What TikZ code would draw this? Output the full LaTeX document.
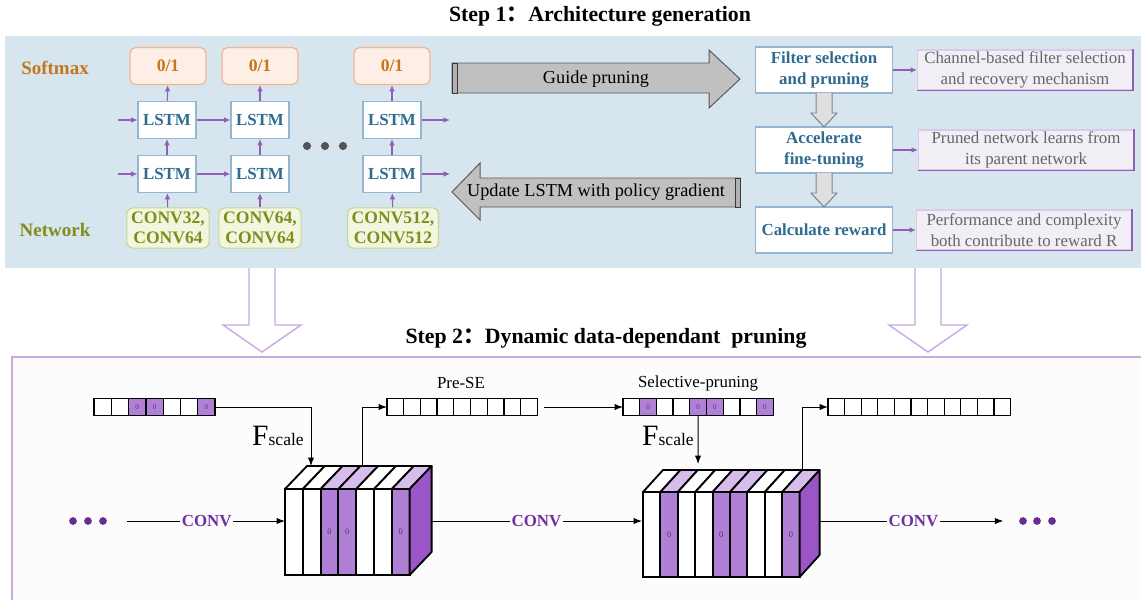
\documentclass[tikz,border=0pt]{standalone}
\usepackage{fontspec}
\setmainfont{Liberation Serif}
\newfontfamily\cjk{Noto Sans CJK SC}
\usetikzlibrary{arrows.meta,positioning}

\definecolor{panelblue}{HTML}{D7E6EE}
\definecolor{softfill}{HTML}{FDEEE6}
\definecolor{softedge}{HTML}{F3B58C}
\definecolor{softtext}{HTML}{C4761C}
\definecolor{lstmedge}{HTML}{94B6D2}
\definecolor{lstmtext}{HTML}{2F6C8E}
\definecolor{convfill}{HTML}{F3F6DF}
\definecolor{convedge}{HTML}{C5D78F}
\definecolor{convtext}{HTML}{7F8E1A}
\definecolor{arrowpurple}{HTML}{8E5FB8}
\definecolor{arrowgray}{HTML}{C0C0C0}
\definecolor{descfill}{HTML}{F1EEF6}
\definecolor{descedge}{HTML}{D9CBE8}
\definecolor{desctext}{HTML}{666666}
\definecolor{panellav}{HTML}{C9A9E2}
\definecolor{bottomfill}{HTML}{FCFCFC}
\definecolor{slicepurple}{HTML}{B07FD6}
\definecolor{toppurple}{HTML}{D6BDEB}
\definecolor{sidepurple}{HTML}{9A55C6}
\definecolor{convpurple}{HTML}{7030A0}
\definecolor{dotpurple}{HTML}{6A2C91}
\definecolor{dotgray}{HTML}{555555}
\definecolor{zerotext}{HTML}{4A3A5A}

\begin{document}
\begin{tikzpicture}[x=0.025cm,y=-0.025cm,
  parrow/.style={draw=arrowpurple,line width=.8pt,-{Latex[length=4.5pt,width=4pt]}},
  barrow/.style={draw=black,line width=.7pt,-{Latex[length=6pt,width=4.5pt]}},
  softbox/.style={draw=softedge,fill=softfill,rounded corners=4pt,text=softtext,font=\fontsize{12.5}{14}\selectfont\bfseries,minimum width=54pt,minimum height=26.3pt,line width=.8pt},
  lstmbox/.style={draw=lstmedge,fill=white,text=lstmtext,font=\fontsize{12}{14}\selectfont\bfseries,minimum width=41.3pt,minimum height=26.3pt,line width=.8pt},
  convbox/.style={draw=convedge,fill=convfill,rounded corners=4pt,text=convtext,font=\fontsize{12.5}{14.2}\selectfont\bfseries,align=center,minimum width=57pt,minimum height=27pt,inner sep=3pt,line width=.8pt},
  flowbox/.style={draw=lstmedge,fill=white,text=lstmtext,font=\fontsize{12}{14.5}\selectfont\bfseries,align=center,minimum width=97.5pt,minimum height=32.7pt,line width=.8pt},
  descbox/.style={draw=descedge,fill=descfill,text=desctext,font=\fontsize{12}{15}\selectfont,align=center,minimum width=153pt,minimum height=28.5pt,inner sep=1pt,line width=.8pt},
  darkedge/.style={draw=arrowpurple,line width=1pt},
  graybig/.style={draw=gray!70!black,fill=arrowgray,line width=.7pt},
  tailband/.style={fill=gray!60,draw=gray!45!black,line width=.7pt},
  graysmall/.style={draw=gray,fill=gray!25,line width=.7pt},
  hollow/.style={draw=panellav,fill=white,line width=1pt},
  dot/.style={circle,fill=#1,inner sep=0pt,minimum size=5.5pt},
  title/.style={font=\fontsize{15.5}{18}\selectfont\bfseries},
  side/.style={font=\fontsize{13.5}{16}\selectfont\bfseries},
  big/.style={font=\fontsize{13}{15}\selectfont},
  small/.style={font=\fontsize{12}{14}\selectfont},
  cell/.style={draw,line width=.9pt,inner sep=0pt,outer sep=0pt,minimum width=#1,minimum height=12.45pt,font=\fontsize{5}{6}\selectfont,text=zerotext},
  cell0/.style={fill=white},
  cell1/.style={fill=slicepurple},
  slice/.style={draw,line width=1.3pt,inner sep=0pt,outer sep=0pt,minimum width=#1,font=\fontsize{6}{7}\selectfont,text=zerotext},
  slice0/.style={fill=white},
  slice1/.style={fill=slicepurple},
  slice2/.style={fill=slicepurple},
  topf0/.style={fill=white},
  topf1/.style={fill=toppurple},
  topf2/.style={fill=toppurple},
  cubeedge/.style={draw,line width=1.3pt,line join=round},
  convlabel/.style={fill=bottomfill,text=convpurple,font=\fontsize{12}{14}\selectfont\bfseries,inner sep=1pt},
  fscale/.style={font=\fontsize{21}{24}\selectfont,inner sep=0pt}]

\useasboundingbox (0,0) rectangle (1141,599);

\node[title] (step1) at (600,16) {Step 1{\cjk ：}Architecture generation};
\fill[panelblue] (5,36) rectangle (1160,268);

\node[side,text=softtext] (softmax) at (55,68) {Softmax};
\node[side,text=convtext] (network) at (55,230) {Network};

\node[softbox] (s1) at (168,66) {0/1};
\node[softbox] (s2) at (260,66) {0/1};
\node[softbox] (s3) at (392,66) {0/1};
\node[lstmbox] (h1) at (167,120) {LSTM};
\node[lstmbox] (h2) at (260,120) {LSTM};
\node[lstmbox] (h3) at (392,120) {LSTM};
\node[lstmbox] (g1) at (167,174) {LSTM};
\node[lstmbox] (g2) at (260,174) {LSTM};
\node[lstmbox] (g3) at (392,174) {LSTM};
\node[convbox] (c1) at (168,228) {CONV32,\\CONV64};
\node[convbox] (c2) at (260,228) {CONV64,\\CONV64};
\node[convbox] (c3) at (393,228) {CONV512,\\CONV512};

\foreach \k in {1,2,3} {
  \draw[parrow] (c\k) -- (g\k);
  \draw[parrow] (g\k) -- (h\k);
  \draw[parrow] (h\k) -- (s\k);
}
\coordinate (hin) at (118,120);
\coordinate (gin) at (118,174);
\coordinate (hout) at (450,120);
\coordinate (gout) at (450,174);
\draw[parrow] (hin) -- (h1);
\draw[parrow] (gin) -- (g1);
\draw[parrow] (h1) -- (h2);
\draw[parrow] (g1) -- (g2);
\draw[parrow] (h3) -- (hout);
\draw[parrow] (g3) -- (gout);

\node[dot=dotgray,minimum size=5.8pt] (m1) at (307,146) {};
\node[dot=dotgray,minimum size=5.8pt] (m2) at (325,146) {};
\node[dot=dotgray,minimum size=5.8pt] (m3) at (343,146) {};

\draw[graybig] (452,63) -- (709,63) -- (709,50) -- (740,79) -- (709,108) -- (709,93) -- (452,93) -- cycle;
\draw[tailband] (452,63) rectangle (457,93);
\node[big] (guide) at (596,79) {Guide pruning};
\draw[graybig] (740,178) -- (480,178) -- (480,163) -- (452,192) -- (480,220) -- (480,207) -- (740,207) -- cycle;
\draw[tailband] (735,178) rectangle (740,207);
\node[big] (update) at (596,192) {Update LSTM with policy gradient};

\node[flowbox] (f1) at (824,70) {Filter selection\\and pruning};
\node[flowbox] (f2) at (824,150) {Accelerate\\fine-tuning};
\node[flowbox] (f3) at (824,230) {Calculate reward};
\node[descbox] (e1) at (1025,70) {Channel-based filter selection\\and recovery mechanism};
\node[descbox] (e2) at (1026,150) {Pruned network learns from\\its parent network};
\node[descbox] (e3) at (1024,230) {Performance and complexity\\both contribute to reward R};
\foreach \k in {1,2,3} {
  \draw[darkedge] (e\k.north east) -- (e\k.south east) -- (e\k.south west);
  \draw[parrow] (f\k) -- (e\k);
}
\draw[graysmall] (816,93) -- (816,113) -- (811,113) -- (824,127) -- (837,113) -- (832,113) -- (832,93);
\draw[graysmall] (816,173) -- (816,193) -- (811,193) -- (824,207) -- (837,193) -- (832,193) -- (832,173);

\draw[hollow] (249,268) -- (249,325) -- (223,325) -- (262,352) -- (301,325) -- (275,325) -- (275,268);
\draw[hollow] (915,268) -- (915,325) -- (889,325) -- (928,352) -- (967,325) -- (941,325) -- (941,268);
\node[title] (step2) at (606,338) {Step 2{\cjk ：}Dynamic data-dependant\ \ pruning};

\draw[draw=panellav,fill=bottomfill,line width=.8pt] (12,357) rectangle (1160,610);

\foreach \f [count=\i] in {0,0,1,1,0,0,1}
  \node[cell=12.31pt,cell\f] (a\i) at ({94+17.3*(\i-0.5)},407) {\ifnum\f=1 0\fi};
\foreach \i in {1,...,9}
  \node[cell=11.88pt,cell0] (v\i) at ({387+16.7*(\i-0.5)},407) {};
\foreach \f [count=\i] in {0,1,0,0,1,1,0,0,1}
  \node[cell=11.88pt,cell\f] (w\i) at ({623+16.7*(\i-0.5)},407) {\ifnum\f=1 0\fi};
\foreach \i in {1,...,11}
  \node[cell=11.81pt,cell0] (x\i) at ({828+16.6*(\i-0.5)},407) {};
\node[small] (prese) at (461,383) {Pre-SE};
\node[small] (selp) at (698,383) {Selective-pruning};

\foreach \f [count=\i] in {0,0,1,1,0,0,1}
  \draw[cubeedge,topf\f] ({285+17.8*(\i-1)},489) -- ++(22,-23) -- ++(17.8,0) -- ++(-22,23) -- cycle;
\foreach \f [count=\i] in {0,0,1,1,0,0,1}
  \node[slice=12.66pt,slice\f,minimum height=61.2pt] (p\i) at ({285+17.8*(\i-0.5)},532) {\ifnum\f=1 0\fi};
\draw[cubeedge,fill=sidepurple] (p7.north east) -- ++(22,-23) -- ++(0,86) -- (p7.south east) -- cycle;

\foreach \f [count=\i] in {0,1,0,0,1,2,0,0,1}
  \draw[cubeedge,topf\f] ({643+17.4*(\i-1)},492) -- ++(20,-22) -- ++(17.4,0) -- ++(-20,22) -- cycle;
\foreach \f [count=\i] in {0,1,0,0,1,2,0,0,1}
  \node[slice=12.38pt,slice\f,minimum height=60.5pt] (q\i) at ({643+17.4*(\i-0.5)},534.5) {\ifnum\f=1 0\fi};
\draw[cubeedge,fill=sidepurple] (q9.north east) -- ++(20,-22) -- ++(0,85) -- (q9.south east) -- cycle;

\coordinate (t1) at (311,466);
\draw[barrow] (a7.east) -| (t1);
\node[fscale] (fs1) at (278,436) {F{\fontsize{12.5}{14}\selectfont scale}};
\coordinate (u1) at (362,466);
\draw[barrow] (u1) |- (v1.west);
\draw[barrow,shorten <=5pt] (v9.east) -- (w1.west);
\coordinate (t2) at (698,464);
\draw[barrow] (w5.south) -- (t2);
\node[fscale] (fs2) at (668,436) {F{\fontsize{12.5}{14}\selectfont scale}};
\coordinate (u2) at (802,469);
\draw[barrow] (u2) |- (x1.west);

\node[dot=dotpurple] (dl1) at (73,521) {};
\node[dot=dotpurple] (dl2) at (88,521) {};
\node[dot=dotpurple] (dl3) at (103,521) {};
\coordinate (in1) at (285,521);
\draw[barrow,shorten <=14pt] (dl3) -- node[convlabel,pos=.56] {CONV} (in1);
\coordinate (out1) at (431,521);
\coordinate (in2) at (642,521);
\draw[barrow] (out1) -- node[convlabel] {CONV} (in2);
\node[dot=dotpurple] (dr1) at (1023,521) {};
\node[dot=dotpurple] (dr2) at (1037,521) {};
\node[dot=dotpurple] (dr3) at (1052,521) {};
\coordinate (out2) at (820,521);
\draw[barrow,shorten >=11pt] (out2) -- node[convlabel,pos=.47] {CONV} (dr1);
\end{tikzpicture}
\end{document}
